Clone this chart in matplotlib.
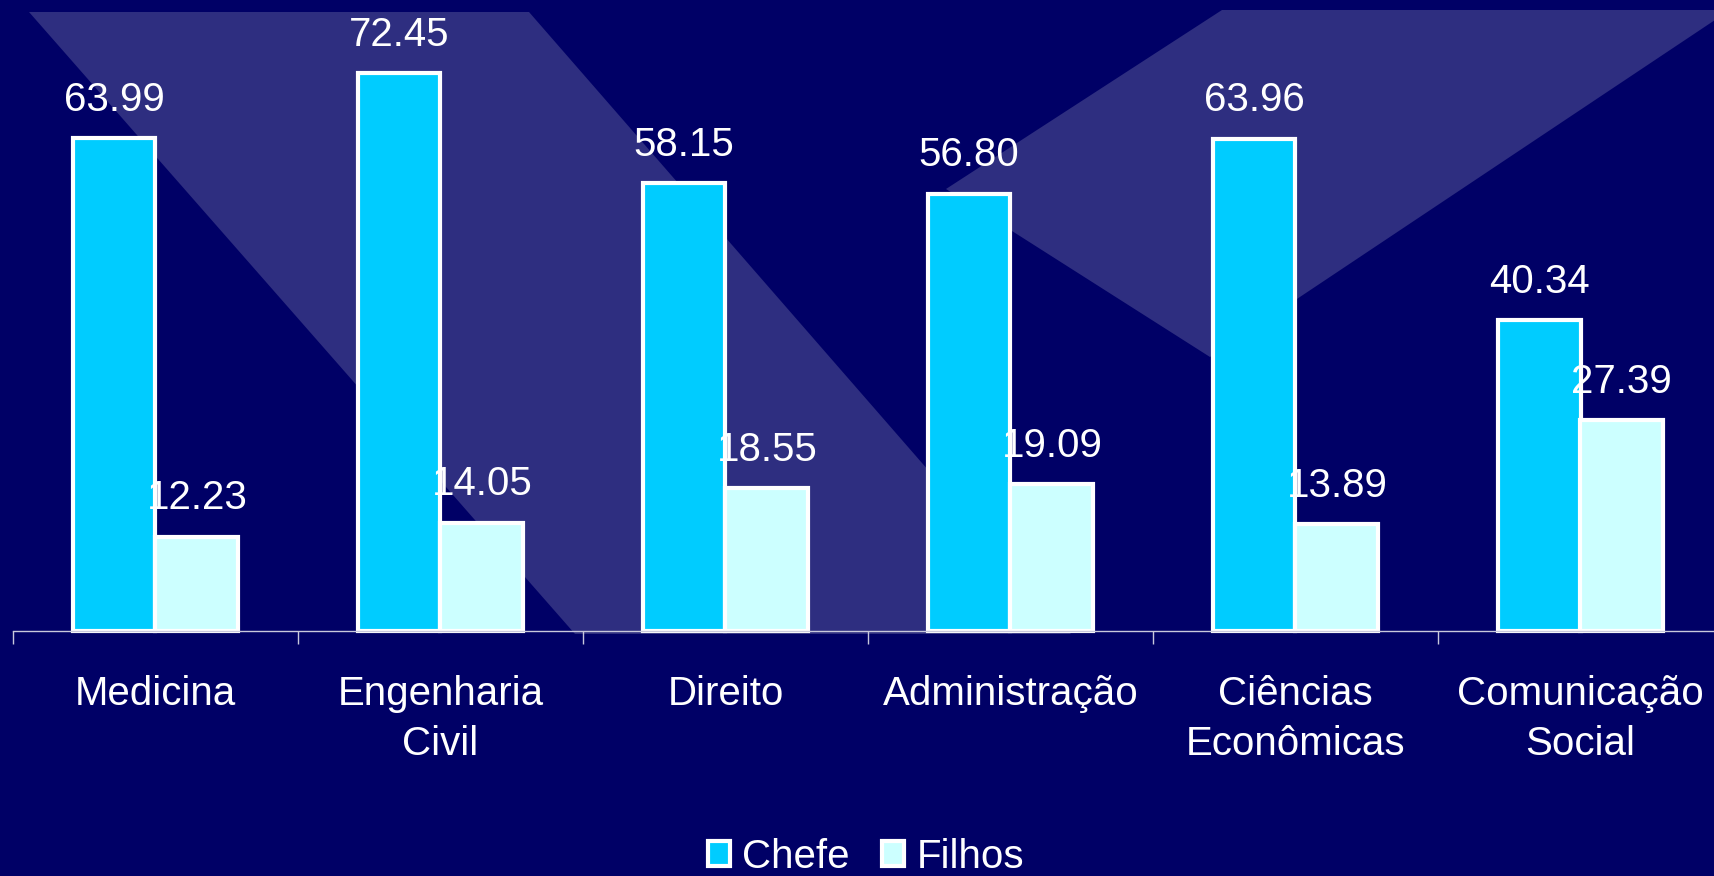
import numpy as np
import matplotlib
matplotlib.use("Agg")
from matplotlib import pyplot as plt
from matplotlib.patches import Polygon, Patch

plt.rcParams['font.family'] = ['Liberation Sans', 'DejaVu Sans']

# data
cursos = ["Medicina", "Engenharia\nCivil", "Direito", "Administração",
          "Ciências\nEconômicas", "Comunicação\nSocial"]
chefe = [63.99, 72.45, 58.15, 56.80, 63.96, 40.34]
filhos = [12.23, 14.05, 18.55, 19.09, 13.89, 27.39]
series_names = ["Chefe", "Filhos"]

BG = "#000066"
SHAPE = "#2E2E80"
COR_CHEFE = "#00CCFF"
COR_FILHOS = "#CCFFFF"
W = 0.29

fig = plt.figure(figsize=(17.15, 8.76), dpi=100, facecolor=BG)

# background decoration (slide template shapes), in pixel-like coords
bg = fig.add_axes([0, 0, 1, 1], zorder=0)
bg.set_xlim(0, 1715)
bg.set_ylim(876, 0)
bg.axis("off")
bg.add_patch(Polygon([(29, 12), (529, 12), (1071, 634), (575, 634)],
                     closed=True, facecolor=SHAPE, edgecolor="none"))
bg.add_patch(Polygon([(1222, 10), (1715, 10), (1715, 20), (1210, 357), (946, 189)],
                     closed=True, facecolor=SHAPE, edgecolor="none"))

ax = fig.add_axes([13 / 1715, 0.2797, 1710 / 1715, 0.703], zorder=1)
ax.patch.set_alpha(0)

x = np.arange(len(cursos))
b1 = ax.bar(x - W / 2, chefe, W, color=COR_CHEFE, edgecolor="white", linewidth=3, clip_on=False)
b2 = ax.bar(x + W / 2, filhos, W, color=COR_FILHOS, edgecolor="white", linewidth=3, clip_on=False)

for bars, vals in [(b1, chefe), (b2, filhos)]:
    for r, v in zip(bars, vals):
        ax.annotate(f"{v:.2f}", (r.get_x() + r.get_width() / 2, v),
                    xytext=(0, 14), textcoords="offset points",
                    ha="center", va="bottom", color="white", fontsize=29)

ax.set_xlim(-0.5, len(cursos) - 0.5)
ax.set_ylim(0, 80)
ax.set_yticks([])
for s in ["top", "left", "right"]:
    ax.spines[s].set_visible(False)
ax.spines["bottom"].set_color("#C8C8DC")
ax.spines["bottom"].set_linewidth(1)

ax.set_xticks(x)
ax.set_xticklabels(cursos, color="white", fontsize=29, linespacing=1.4)
ax.tick_params(axis="x", which="major", length=0, pad=32)
ax.set_xticks(np.arange(len(cursos) + 1) - 0.5, minor=True)
ax.tick_params(axis="x", which="minor", length=9, width=1, color="#C8C8DC", direction="out")

handles = [Patch(facecolor=COR_CHEFE, edgecolor="white", linewidth=3),
           Patch(facecolor=COR_FILHOS, edgecolor="white", linewidth=3)]
fig.legend(handles, series_names, loc="center", bbox_to_anchor=(0.505, 0.022),
           ncol=2, frameon=False, fontsize=29, labelcolor="white",
           handlelength=0.55, handleheight=0.55, handletextpad=0.3, columnspacing=0.8)

fig.savefig("out.png", dpi=100, facecolor=BG)
